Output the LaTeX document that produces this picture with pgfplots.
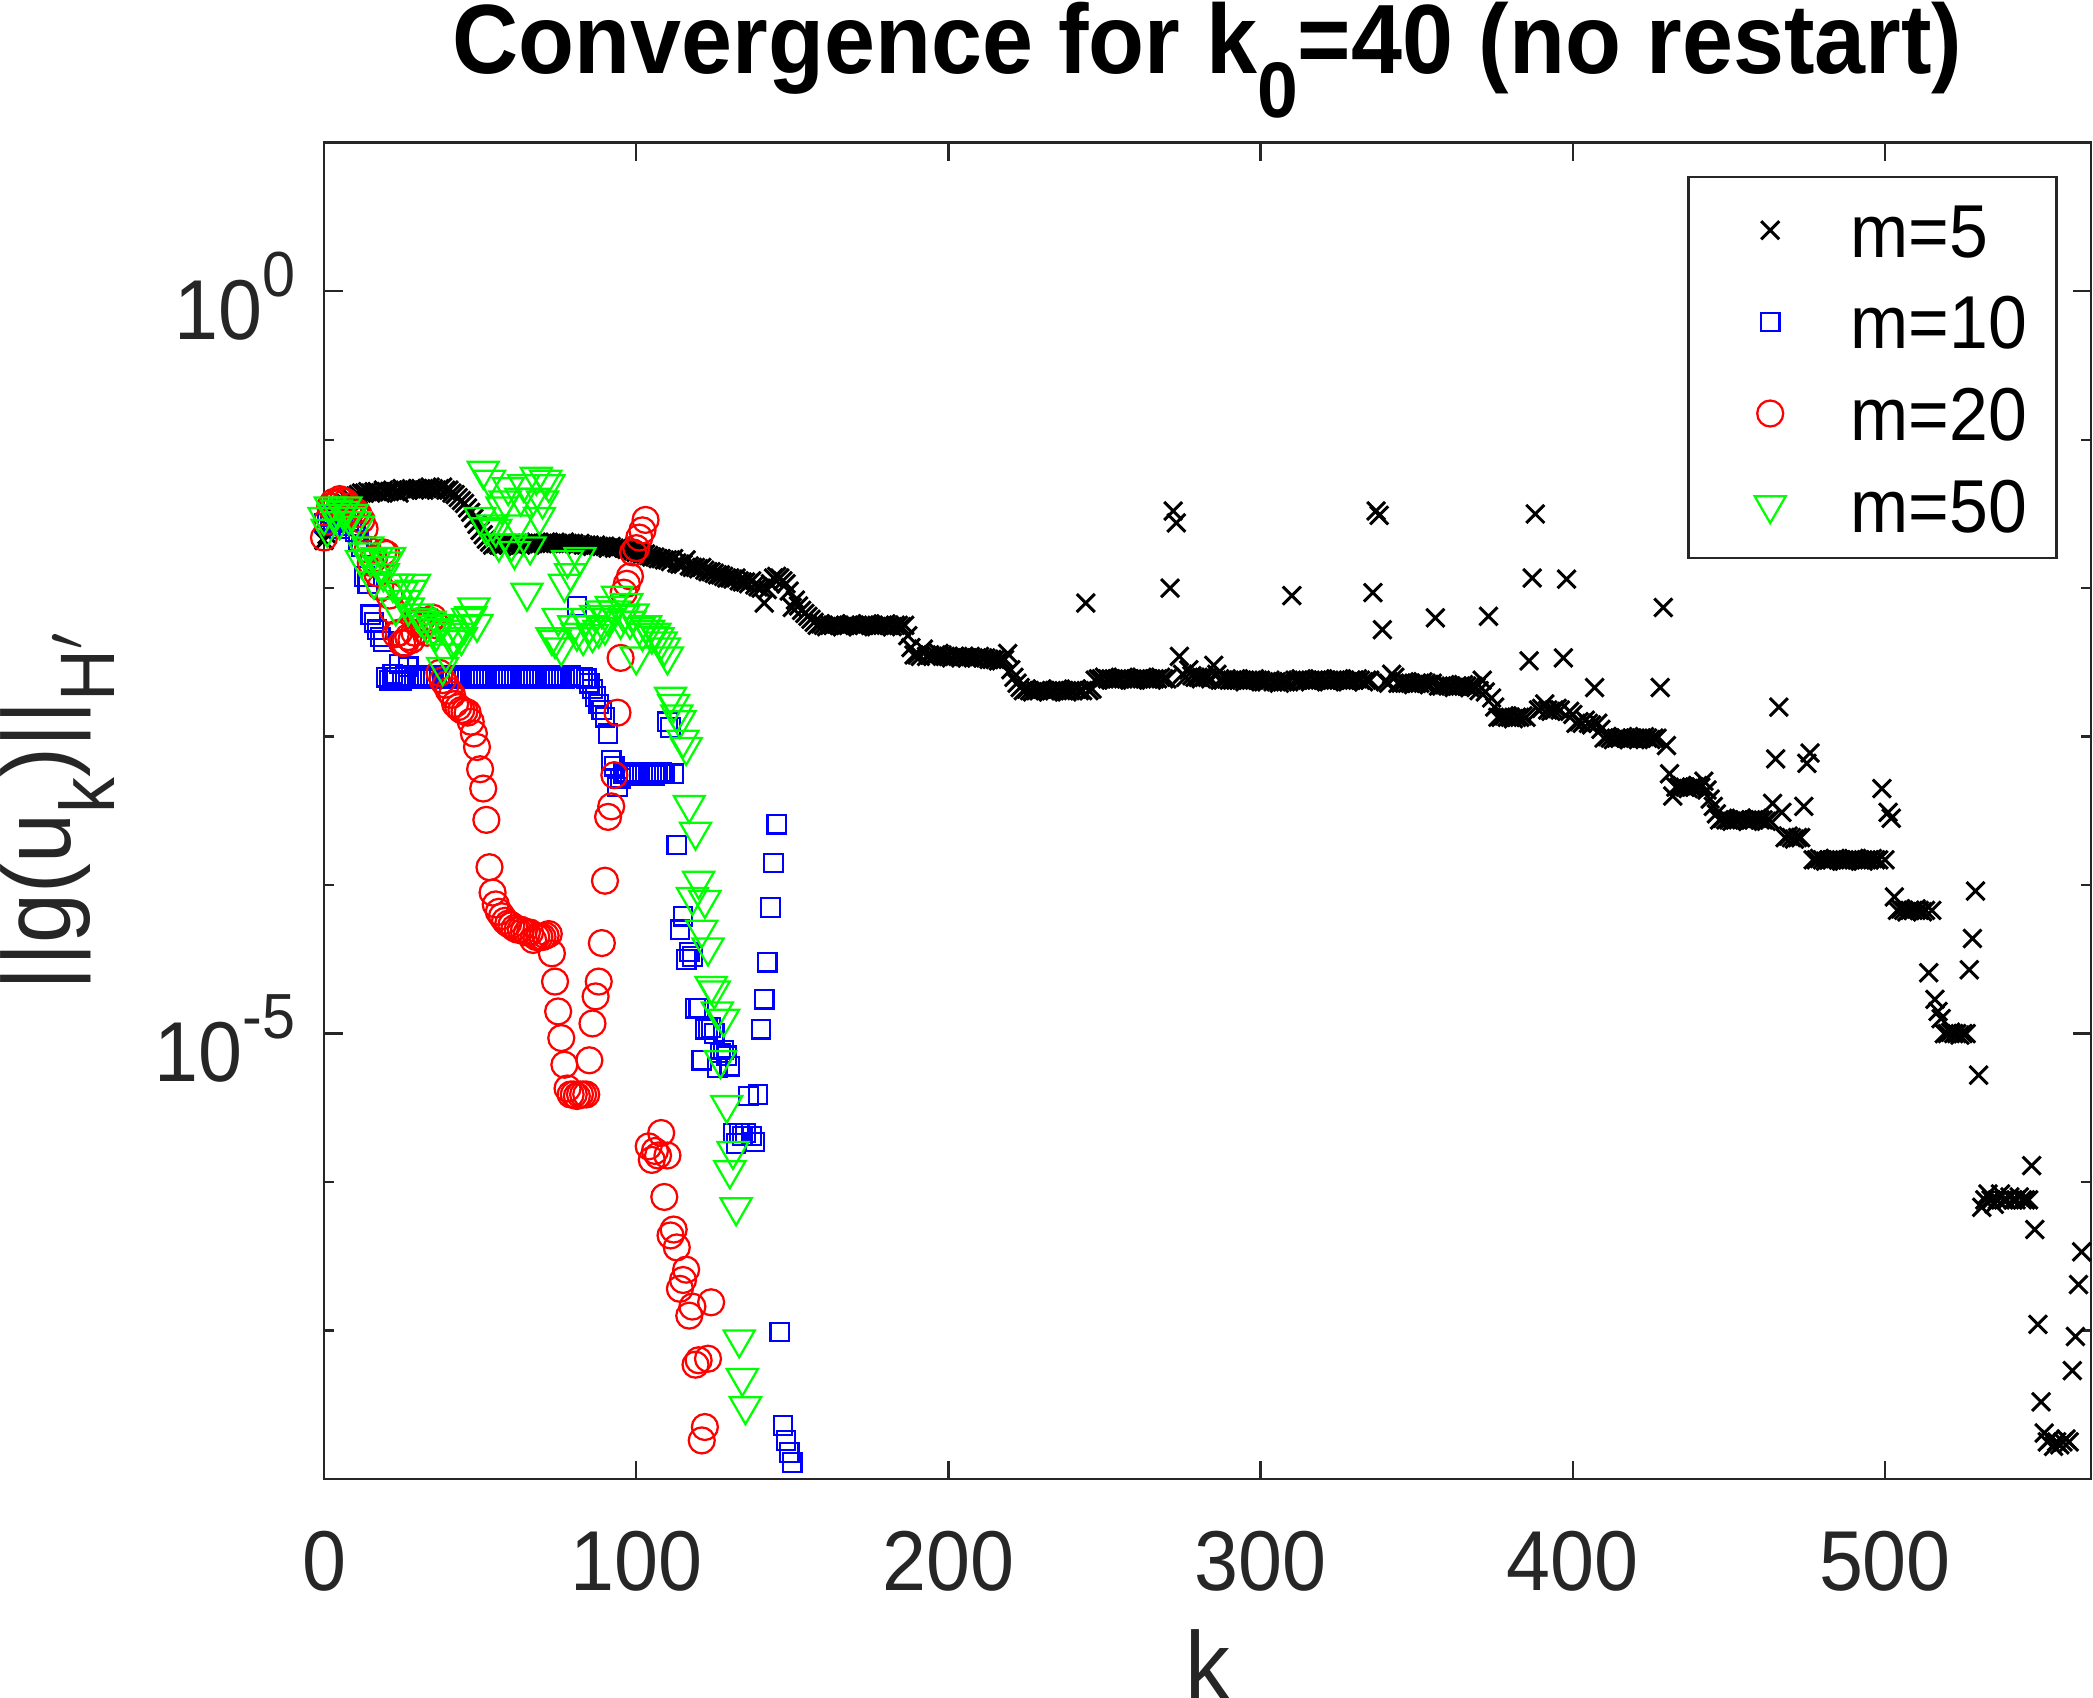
\documentclass[border=0pt]{standalone}
\usepackage{fontspec}
\setmainfont{Liberation Sans}[FakeStretch=0.93]
\usepackage{graphicx}
\usepackage{pgfplots}
\pgfplotsset{compat=1.18}
\newcommand{\msub}[1]{\raisebox{-0.45em}{\scalebox{0.8}{#1}}}
\newcommand{\msup}[1]{\raisebox{0.5em}{\scalebox{0.75}{#1}}}
\definecolor{axgray}{rgb}{0.15,0.15,0.15}
\begin{document}
\begin{tikzpicture}
\begin{axis}[
  name=ax,
  scale only axis,
  width=353.4pt, height=267.26pt,
  xmin=0, xmax=566,
  ymode=log, ymin=1e-8, ymax=10,
  clip=false,
  xtick={0,100,200,300,400,500},
  xticklabels={0,100,200,300,400,500},
  ytick={1e-5,1},
  yticklabels={10\msup{-5},10\msup{0}},
  minor ytick={1e-7,1e-6,1e-4,1e-3,1e-2,1e-1},
  axis line style={axgray, line width=0.5pt},
  every tick/.style={axgray, line width=0.45pt},
  major tick length=3.7pt, minor tick length=2pt,
  tick align=inside,
  tick label style={font=\fontsize{17}{20}\selectfont, text=axgray},
  xticklabel style={anchor=base, yshift=-22.2pt},
  yticklabel style={anchor=east, inner sep=0pt, xshift=-5.6pt, yshift=-1pt},
  title={Convergence for k\msub{0}=40 (no restart)},
  title style={font=\fontsize{19.7}{23}\selectfont\bfseries, at={(axis description cs:0.5,1)}, anchor=base, yshift=7.9pt, inner sep=0pt},
  xlabel={k},
  xlabel style={font=\fontsize{19.3}{23}\selectfont, at={(axis description cs:0.5,0)}, anchor=base, yshift=-44pt, inner sep=0pt, text=axgray},
  ylabel={||g(u\msub{k})||\msub{H$'$}},
  ylabel style={font=\fontsize{19.3}{23}\selectfont, at={(axis description cs:-0.18336,0.5)}, anchor=north, inner sep=0pt, text=axgray},
  legend style={at={(axis description cs:0.9813,0.9751)}, anchor=north east,
    draw=axgray, line width=0.5pt, fill=white,
    font=\fontsize{15}{18}\selectfont,
    inner xsep=0pt, inner ysep=5.2pt,
    row sep=7.53pt, column sep=0pt,
    nodes={inner sep=0pt, text height=10.8pt, text depth=0pt, text width=41.2pt, align=left}},
  legend cell align=left,
  legend image code/.code={\path (-16pt,0pt) (15.8pt,0pt); \draw[mark repeat=2,mark phase=2,#1] plot coordinates {(-1pt,0pt) (0pt,0pt) (1pt,0pt)};},
]
% m=5
\addplot[only marks, mark=x, mark size=2.55pt, black, line width=0.6pt] coordinates {
(0,2.09e-2)(1,2.29e-2)(2,2.51e-2)(3,2.75e-2)(4,3.02e-2)(5,3.24e-2)(6,3.47e-2)(7,3.72e-2)(8,3.89e-2)(9,3.98e-2)
(10,4.17e-2)(11,4.27e-2)(12,4.37e-2)(13,4.37e-2)(14,4.47e-2)(15,4.37e-2)(16,4.47e-2)(17,4.47e-2)(18,4.37e-2)(19,4.57e-2)
(20,4.47e-2)(21,4.47e-2)(22,4.57e-2)(23,4.47e-2)(24,4.37e-2)(25,4.68e-2)(26,4.57e-2)(27,4.57e-2)(28,4.68e-2)(29,4.57e-2)
(30,4.68e-2)(31,4.68e-2)(32,4.57e-2)(33,4.68e-2)(34,4.79e-2)(35,4.68e-2)(36,4.57e-2)(37,4.68e-2)(38,4.79e-2)(39,4.57e-2)
(40,4.57e-2)(41,4.37e-2)(42,4.27e-2)(43,4.07e-2)(44,3.89e-2)(45,3.72e-2)(46,3.47e-2)(47,3.24e-2)(48,2.95e-2)(49,2.69e-2)
(50,2.45e-2)(51,2.29e-2)(52,2.14e-2)(53,2.04e-2)(54,1.95e-2)(55,2.00e-2)(56,1.95e-2)(57,1.91e-2)(58,2.00e-2)(59,1.95e-2)
(60,2.00e-2)(61,1.95e-2)(62,2.00e-2)(63,1.95e-2)(64,2.00e-2)(65,2.00e-2)(66,1.95e-2)(67,2.00e-2)(68,2.04e-2)(69,2.00e-2)
(70,2.00e-2)(71,2.04e-2)(72,2.00e-2)(73,2.00e-2)(74,2.04e-2)(75,2.00e-2)(76,2.00e-2)(77,2.04e-2)(78,2.00e-2)(79,2.00e-2)
(80,2.00e-2)(81,1.95e-2)(82,2.00e-2)(83,1.95e-2)(84,1.95e-2)(85,1.95e-2)(86,1.91e-2)(87,1.95e-2)(88,1.91e-2)(89,1.91e-2)
(90,1.91e-2)(91,1.86e-2)(92,1.91e-2)(93,1.86e-2)(94,1.86e-2)(95,1.91e-2)(96,1.86e-2)(97,1.82e-2)(98,1.82e-2)(99,1.78e-2)
(100,1.74e-2)(101,1.74e-2)(102,1.70e-2)(103,1.70e-2)(104,1.66e-2)(105,1.62e-2)(106,1.62e-2)(107,1.58e-2)(108,1.58e-2)(109,1.55e-2)
(110,1.55e-2)(111,1.51e-2)(112,1.58e-2)(113,1.48e-2)(114,1.45e-2)(115,1.45e-2)(116,1.55e-2)(117,1.41e-2)(118,1.38e-2)(119,1.38e-2)
(120,1.35e-2)(121,1.38e-2)(122,1.32e-2)(123,1.29e-2)(124,1.29e-2)(125,1.26e-2)(126,1.23e-2)(127,1.23e-2)(128,1.20e-2)(129,1.17e-2)
(130,1.17e-2)(131,1.15e-2)(132,1.17e-2)(133,1.12e-2)(134,1.10e-2)(135,1.10e-2)(136,1.07e-2)(137,1.12e-2)(138,1.05e-2)(139,1.02e-2)
(140,1.00e-2)(141,7.94e-3)(142,9.77e-3)(143,1.07e-2)(144,1.17e-2)(145,1.20e-2)(146,1.17e-2)(147,1.12e-2)(148,1.07e-2)(149,9.55e-3)
(150,7.41e-3)(151,8.32e-3)(152,7.59e-3)(153,7.08e-3)(154,6.76e-3)(155,6.46e-3)(156,6.17e-3)(157,5.89e-3)(158,5.62e-3)(159,5.75e-3)
(160,5.62e-3)(161,5.50e-3)(162,5.62e-3)(163,5.62e-3)(164,5.75e-3)(165,5.62e-3)(166,5.50e-3)(167,5.62e-3)(168,5.62e-3)(169,5.75e-3)
(170,5.62e-3)(171,5.50e-3)(172,5.62e-3)(173,5.62e-3)(174,5.75e-3)(175,5.62e-3)(176,5.62e-3)(177,5.50e-3)(178,5.62e-3)(179,5.62e-3)
(180,5.75e-3)(181,5.62e-3)(182,5.50e-3)(183,5.62e-3)(184,5.62e-3)(185,5.50e-3)(186,5.62e-3)(187,4.79e-3)(188,3.98e-3)(189,3.55e-3)
(190,3.55e-3)(191,3.47e-3)(192,3.89e-3)(193,3.47e-3)(194,3.55e-3)(195,3.47e-3)(196,3.55e-3)(197,3.63e-3)(198,3.55e-3)(199,3.47e-3)
(200,3.47e-3)(201,3.39e-3)(202,3.47e-3)(203,3.47e-3)(204,3.39e-3)(205,3.47e-3)(206,3.39e-3)(207,3.47e-3)(208,3.39e-3)(209,3.39e-3)
(210,3.47e-3)(211,3.39e-3)(212,3.39e-3)(213,3.31e-3)(214,3.31e-3)(215,3.31e-3)(216,3.24e-3)(217,3.24e-3)(218,3.31e-3)(219,3.63e-3)
(220,2.82e-3)(221,2.51e-3)(222,2.29e-3)(223,2.14e-3)(224,2.04e-3)(225,2.09e-3)(226,2.04e-3)(227,2.00e-3)(228,2.04e-3)(229,2.04e-3)
(230,2.09e-3)(231,2.04e-3)(232,2.00e-3)(233,2.04e-3)(234,2.04e-3)(235,2.09e-3)(236,2.04e-3)(237,2.04e-3)(238,2.00e-3)(239,2.04e-3)
(240,2.04e-3)(241,2.09e-3)(242,2.04e-3)(243,2.04e-3)(244,7.94e-3)(245,2.04e-3)(246,2.09e-3)(247,2.40e-3)(248,2.45e-3)(249,2.45e-3)
(250,2.51e-3)(251,2.45e-3)(252,2.45e-3)(253,2.40e-3)(254,2.45e-3)(255,2.45e-3)(256,2.51e-3)(257,2.45e-3)(258,2.45e-3)(259,2.40e-3)
(260,2.45e-3)(261,2.45e-3)(262,2.51e-3)(263,2.45e-3)(264,2.45e-3)(265,2.40e-3)(266,2.45e-3)(267,2.45e-3)(268,2.51e-3)(269,2.45e-3)
(270,2.45e-3)(271,1.00e-2)(272,3.31e-2)(273,2.75e-2)(274,3.47e-3)(275,2.63e-3)(276,2.51e-3)(277,2.82e-3)(278,2.57e-3)(279,2.51e-3)
(280,2.51e-3)(281,2.45e-3)(282,2.51e-3)(283,2.51e-3)(284,2.45e-3)(285,3.02e-3)(286,2.63e-3)(287,2.40e-3)(288,2.40e-3)(289,2.45e-3)
(290,2.40e-3)(291,2.40e-3)(292,2.45e-3)(293,2.40e-3)(294,2.40e-3)(295,2.34e-3)(296,2.40e-3)(297,2.40e-3)(298,2.45e-3)(299,2.40e-3)
(300,2.40e-3)(301,2.34e-3)(302,2.34e-3)(303,2.40e-3)(304,2.34e-3)(305,2.34e-3)(306,2.29e-3)(307,2.34e-3)(308,2.34e-3)(309,2.34e-3)
(310,8.91e-3)(311,2.40e-3)(312,2.40e-3)(313,2.45e-3)(314,2.40e-3)(315,2.40e-3)(316,2.34e-3)(317,2.40e-3)(318,2.40e-3)(319,2.45e-3)
(320,2.40e-3)(321,2.40e-3)(322,2.34e-3)(323,2.40e-3)(324,2.40e-3)(325,2.45e-3)(326,2.40e-3)(327,2.40e-3)(328,2.34e-3)(329,2.40e-3)
(330,2.40e-3)(331,2.45e-3)(332,2.40e-3)(333,2.34e-3)(334,2.40e-3)(335,2.40e-3)(336,9.33e-3)(337,3.31e-2)(338,3.09e-2)(339,5.25e-3)
(340,2.34e-3)(341,2.29e-3)(342,2.63e-3)(343,2.51e-3)(344,2.29e-3)(345,2.29e-3)(346,2.34e-3)(347,2.29e-3)(348,2.29e-3)(349,2.24e-3)
(350,2.29e-3)(351,2.29e-3)(352,2.34e-3)(353,2.29e-3)(354,2.24e-3)(355,2.29e-3)(356,6.31e-3)(357,2.19e-3)(358,2.19e-3)(359,2.24e-3)
(360,2.19e-3)(361,2.19e-3)(362,2.14e-3)(363,2.19e-3)(364,2.19e-3)(365,2.24e-3)(366,2.19e-3)(367,2.14e-3)(368,2.19e-3)(369,2.14e-3)
(370,2.04e-3)(371,2.40e-3)(372,2.00e-3)(373,6.46e-3)(374,1.82e-3)(375,1.58e-3)(376,1.35e-3)(377,1.35e-3)(378,1.38e-3)(379,1.35e-3)
(380,1.35e-3)(381,1.32e-3)(382,1.35e-3)(383,1.35e-3)(384,1.38e-3)(385,1.35e-3)(386,3.24e-3)(387,1.17e-2)(388,3.16e-2)(389,1.51e-3)
(390,1.55e-3)(391,1.66e-3)(392,1.51e-3)(393,1.48e-3)(394,1.51e-3)(395,1.55e-3)(396,1.51e-3)(397,3.39e-3)(398,1.15e-2)(399,1.48e-3)
(400,1.41e-3)(401,1.23e-3)(402,1.26e-3)(403,1.23e-3)(404,1.29e-3)(405,1.23e-3)(406,1.20e-3)(407,2.14e-3)(408,1.23e-3)(409,1.12e-3)
(410,9.77e-4)(411,1.00e-3)(412,9.77e-4)(413,9.55e-4)(414,9.77e-4)(415,9.77e-4)(416,1.00e-3)(417,9.77e-4)(418,9.55e-4)(419,9.77e-4)
(420,9.77e-4)(421,9.55e-4)(422,9.77e-4)(423,1.00e-3)(424,9.77e-4)(425,9.55e-4)(426,9.77e-4)(427,9.77e-4)(428,2.14e-3)(429,7.41e-3)
(430,8.71e-4)(431,5.62e-4)(432,3.98e-4)(433,4.57e-4)(434,4.57e-4)(435,4.68e-4)(436,4.57e-4)(437,4.47e-4)(438,4.57e-4)(439,4.57e-4)
(440,4.68e-4)(441,4.57e-4)(442,5.01e-4)(443,4.37e-4)(444,3.80e-4)(445,3.39e-4)(446,3.02e-4)(447,2.75e-4)(448,2.82e-4)(449,2.75e-4)
(450,2.75e-4)(451,2.69e-4)(452,2.75e-4)(453,2.75e-4)(454,2.82e-4)(455,2.75e-4)(456,2.69e-4)(457,2.75e-4)(458,2.75e-4)(459,2.82e-4)
(460,2.75e-4)(461,2.75e-4)(462,2.69e-4)(463,2.75e-4)(464,3.55e-4)(465,7.08e-4)(466,1.58e-3)(467,3.09e-4)(468,2.09e-4)(469,2.14e-4)
(470,2.09e-4)(471,2.04e-4)(472,2.09e-4)(473,2.09e-4)(474,3.39e-4)(475,6.61e-4)(476,7.76e-4)(477,1.48e-4)(478,1.48e-4)(479,1.51e-4)
(480,1.48e-4)(481,1.45e-4)(482,1.48e-4)(483,1.48e-4)(484,1.51e-4)(485,1.48e-4)(486,1.48e-4)(487,1.45e-4)(488,1.48e-4)(489,1.48e-4)
(490,1.51e-4)(491,1.48e-4)(492,1.48e-4)(493,1.45e-4)(494,1.48e-4)(495,1.48e-4)(496,1.51e-4)(497,1.48e-4)(498,1.48e-4)(499,4.47e-4)
(500,1.48e-4)(501,3.09e-4)(502,2.82e-4)(503,8.32e-5)(504,6.76e-5)(505,6.92e-5)(506,6.76e-5)(507,6.61e-5)(508,6.76e-5)(509,6.76e-5)
(510,6.92e-5)(511,6.76e-5)(512,6.61e-5)(513,6.76e-5)(514,2.57e-5)(515,6.76e-5)(516,1.70e-5)(517,1.41e-5)(518,1.26e-5)(519,1.00e-5)
(520,1.00e-5)(521,1.02e-5)(522,1.00e-5)(523,1.00e-5)(524,9.77e-6)(525,1.00e-5)(526,1.00e-5)(527,2.69e-5)(528,4.37e-5)(529,9.12e-5)
(530,5.25e-6)(531,6.76e-7)(532,7.59e-7)(533,8.32e-7)(534,7.59e-7)(535,7.08e-7)(536,7.59e-7)(537,8.32e-7)(538,7.59e-7)(539,7.59e-7)
(540,7.94e-7)(541,7.59e-7)(542,7.59e-7)(543,7.94e-7)(544,7.59e-7)(545,7.59e-7)(546,7.59e-7)(547,1.29e-6)(548,4.79e-7)(549,1.10e-7)
(550,3.31e-8)(551,2.04e-8)(552,1.78e-8)(553,1.86e-8)(554,1.66e-8)(555,1.78e-8)(556,1.70e-8)(557,1.78e-8)(558,1.86e-8)(559,1.78e-8)
(560,5.37e-8)(561,9.12e-8)(562,2.04e-7)(563,3.39e-7)
};
\addlegendentry{m=5}
% m=10
\addplot[only marks, mark=square, mark size=1.85pt, blue, line width=0.45pt] coordinates {
(0,2.75e-2)(1,3.02e-2)(2,2.63e-2)(3,2.82e-2)(4,3.16e-2)(5,2.51e-2)(6,2.95e-2)(7,3.16e-2)(8,2.82e-2)(9,2.63e-2)
(10,2.40e-2)(11,2.09e-2)(12,1.91e-2)(13,1.20e-2)(14,1.07e-2)(15,6.61e-3)(16,5.89e-3)(17,5.25e-3)(18,4.68e-3)(19,4.37e-3)
(20,2.51e-3)(21,2.40e-3)(22,2.63e-3)(23,2.51e-3)(24,3.09e-3)(25,2.40e-3)(26,2.57e-3)(27,2.95e-3)(28,2.51e-3)(29,2.45e-3)
(30,2.51e-3)(31,2.57e-3)(32,2.51e-3)(33,2.45e-3)(34,2.51e-3)(35,2.51e-3)(36,2.57e-3)(37,2.45e-3)(38,2.51e-3)(39,2.51e-3)
(40,2.45e-3)(41,2.51e-3)(42,2.57e-3)(43,2.51e-3)(44,2.51e-3)(45,2.45e-3)(46,2.51e-3)(47,2.51e-3)(48,2.57e-3)(49,2.51e-3)
(50,2.45e-3)(51,2.51e-3)(52,2.51e-3)(53,2.57e-3)(54,2.51e-3)(55,2.45e-3)(56,2.51e-3)(57,2.51e-3)(58,2.57e-3)(59,2.51e-3)
(60,2.51e-3)(61,2.45e-3)(62,2.51e-3)(63,2.57e-3)(64,2.51e-3)(65,2.51e-3)(66,2.45e-3)(67,2.51e-3)(68,2.51e-3)(69,2.57e-3)
(70,2.51e-3)(71,2.45e-3)(72,2.51e-3)(73,2.51e-3)(74,2.57e-3)(75,2.51e-3)(76,2.51e-3)(77,2.45e-3)(78,2.51e-3)(79,2.57e-3)
(80,2.51e-3)(81,7.59e-3)(82,2.51e-3)(83,2.51e-3)(84,2.45e-3)(85,2.29e-3)(86,2.09e-3)(87,1.86e-3)(88,1.66e-3)(89,1.51e-3)
(90,1.35e-3)(91,1.05e-3)(92,6.92e-4)(93,6.31e-4)(94,4.57e-4)(95,5.25e-4)(96,5.62e-4)(97,5.75e-4)(98,5.50e-4)(99,5.62e-4)
(100,5.75e-4)(101,5.62e-4)(102,5.50e-4)(103,5.62e-4)(104,5.75e-4)(105,5.62e-4)(106,5.50e-4)(107,5.62e-4)(108,5.75e-4)(109,5.62e-4)
(110,1.26e-3)(111,1.15e-3)(112,5.62e-4)(113,1.86e-4)(114,5.01e-5)(115,6.17e-5)(116,3.16e-5)(117,3.55e-5)(118,3.31e-5)(119,1.48e-5)
(120,1.48e-5)(121,6.61e-6)(122,1.07e-5)(123,1.07e-5)(124,1.10e-5)(125,1.00e-5)(126,5.89e-6)(127,7.41e-6)(128,7.76e-6)(129,7.08e-6)
(130,6.03e-6)(131,2.14e-6)(132,1.82e-6)(133,2.14e-6)(134,2.04e-6)(135,2.14e-6)(136,3.80e-6)(137,2.04e-6)(138,1.86e-6)(139,3.89e-6)
(140,1.07e-5)(141,1.70e-5)(142,3.02e-5)(143,7.08e-5)(144,1.41e-4)(145,2.57e-4)(146,9.77e-8)(147,2.29e-8)(148,1.82e-8)(149,1.51e-8)
(150,1.29e-8)
};
\addlegendentry{m=10}
% m=20
\addplot[only marks, mark=o, mark size=2.6pt, red, line width=0.45pt] coordinates {
(0,2.19e-2)(1,2.82e-2)(2,3.55e-2)(3,3.80e-2)(4,3.72e-2)(5,3.98e-2)(6,3.89e-2)(7,3.80e-2)(8,3.55e-2)(9,3.39e-2)
(10,3.31e-2)(11,3.16e-2)(12,2.88e-2)(13,2.51e-2)(14,1.82e-2)(15,1.48e-2)(16,1.58e-2)(17,1.26e-2)(18,1.02e-2)(19,1.74e-2)
(20,1.70e-2)(21,8.91e-3)(22,7.08e-3)(23,4.90e-3)(24,5.01e-3)(25,4.27e-3)(26,4.27e-3)(27,4.68e-3)(28,4.47e-3)(29,5.01e-3)
(30,5.75e-3)(31,6.03e-3)(32,5.75e-3)(33,5.01e-3)(34,6.03e-3)(35,6.31e-3)(36,5.62e-3)(37,2.69e-3)(38,2.40e-3)(39,2.24e-3)
(40,2.04e-3)(41,1.91e-3)(42,1.66e-3)(43,1.58e-3)(44,1.51e-3)(45,1.48e-3)(46,1.45e-3)(47,1.26e-3)(48,1.05e-3)(49,8.51e-4)
(50,6.03e-4)(51,4.47e-4)(52,2.75e-4)(53,1.32e-4)(54,8.91e-5)(55,7.41e-5)(56,6.61e-5)(57,6.17e-5)(58,5.75e-5)(59,5.50e-5)
(60,5.37e-5)(61,5.13e-5)(62,5.01e-5)(63,5.01e-5)(64,4.90e-5)(65,4.79e-5)(66,4.79e-5)(67,4.27e-5)(68,4.47e-5)(69,4.47e-5)
(70,4.47e-5)(71,4.57e-5)(72,4.68e-5)(73,3.47e-5)(74,2.24e-5)(75,1.41e-5)(76,9.33e-6)(77,6.17e-6)(78,4.27e-6)(79,3.89e-6)
(80,3.89e-6)(81,3.80e-6)(82,3.89e-6)(83,3.89e-6)(84,3.89e-6)(85,6.61e-6)(86,1.17e-5)(87,1.78e-5)(88,2.24e-5)(89,4.07e-5)
(90,1.07e-4)(91,2.88e-4)(92,3.39e-4)(93,5.50e-4)(94,1.45e-3)(95,3.39e-3)(96,9.33e-3)(97,1.07e-2)(98,1.20e-2)(99,1.74e-2)
(100,1.86e-2)(101,2.19e-2)(102,2.45e-2)(103,2.88e-2)(104,1.74e-6)(105,1.41e-6)(106,1.62e-6)(107,1.51e-6)(108,2.14e-6)(109,7.94e-7)
(110,1.51e-6)(111,4.37e-7)(112,4.79e-7)(113,3.63e-7)(114,1.91e-7)(115,2.19e-7)(116,2.57e-7)(117,1.26e-7)(118,1.45e-7)(119,5.89e-8)
(120,6.31e-8)(121,1.82e-8)(122,2.24e-8)(123,6.46e-8)(124,1.55e-7)
};
\addlegendentry{m=20}
% m=50
\addplot[only marks, mark=triangle, mark size=3.58pt, green, line width=0.45pt, mark options={rotate=180}] coordinates {
(0,3.02e-2)(1,2.51e-2)(2,3.55e-2)(3,3.16e-2)(4,3.39e-2)(5,2.82e-2)(6,3.31e-2)(7,3.55e-2)(8,3.02e-2)(9,3.16e-2)
(10,2.82e-2)(11,2.63e-2)(12,1.55e-2)(13,1.74e-2)(14,1.91e-2)(15,1.58e-2)(16,1.12e-2)(17,1.62e-2)(18,1.41e-2)(19,1.26e-2)
(20,1.51e-2)(21,1.62e-2)(22,1.07e-2)(23,7.41e-3)(24,1.07e-2)(25,9.55e-3)(26,8.32e-3)(27,7.41e-3)(28,9.77e-3)(29,1.07e-2)
(30,6.76e-3)(31,6.31e-3)(32,6.03e-3)(33,5.62e-3)(34,6.03e-3)(35,5.37e-3)(36,5.01e-3)(37,5.75e-3)(38,2.95e-3)(39,3.63e-3)
(40,5.25e-3)(41,4.47e-3)(42,4.47e-3)(43,5.01e-3)(44,4.68e-3)(45,5.62e-3)(46,6.31e-3)(47,6.46e-3)(48,7.41e-3)(49,5.75e-3)
(50,3.02e-2)(51,6.17e-2)(52,2.57e-2)(53,5.37e-2)(54,2.69e-2)(55,2.51e-2)(56,2.00e-2)(57,3.55e-2)(58,3.89e-2)(59,4.79e-2)
(60,2.00e-2)(61,1.78e-2)(62,2.69e-2)(63,4.07e-2)(64,5.01e-2)(65,9.33e-3)(66,1.91e-2)(67,4.07e-2)(68,5.62e-2)(69,3.02e-2)
(70,3.89e-2)(71,5.37e-2)(72,5.01e-2)(73,4.68e-3)(74,4.47e-3)(75,6.31e-3)(76,3.98e-3)(77,1.07e-2)(78,1.55e-2)(79,1.26e-2)
(80,5.62e-3)(81,5.01e-3)(82,1.62e-2)(83,4.68e-3)(84,6.31e-3)(85,5.62e-3)(86,4.90e-3)(87,6.61e-3)(88,5.25e-3)(89,7.08e-3)
(90,5.50e-3)(91,6.31e-3)(92,7.59e-3)(93,7.08e-3)(94,8.91e-3)(95,6.03e-3)(96,6.61e-3)(97,7.94e-3)(98,6.03e-3)(99,6.76e-3)
(100,3.47e-3)(101,5.50e-3)(102,5.01e-3)(103,5.62e-3)(104,5.25e-3)(105,4.79e-3)(106,5.01e-3)(107,4.68e-3)(108,4.37e-3)(109,3.98e-3)
(110,3.47e-3)(111,1.86e-3)(112,1.66e-3)(113,1.41e-3)(114,1.29e-3)(115,9.55e-4)(116,8.51e-4)(117,3.47e-4)(118,8.32e-5)(119,2.29e-4)
(120,1.07e-4)(121,5.01e-5)(122,7.94e-5)(123,3.80e-5)(124,2.09e-5)(125,1.95e-5)(126,1.41e-5)(127,6.61e-6)(128,1.26e-5)(129,3.31e-6)
(130,1.20e-6)(131,1.62e-6)(132,6.76e-7)(133,8.71e-8)(134,4.79e-8)(135,3.09e-8)
};
\addlegendentry{m=50}
\end{axis}
\pgfresetboundingbox
\path ([shift={(-64.8pt,-43.6pt)}]ax.south west) rectangle ([shift={(0.4pt,28.54pt)}]ax.north east);
\end{tikzpicture}
\end{document}
